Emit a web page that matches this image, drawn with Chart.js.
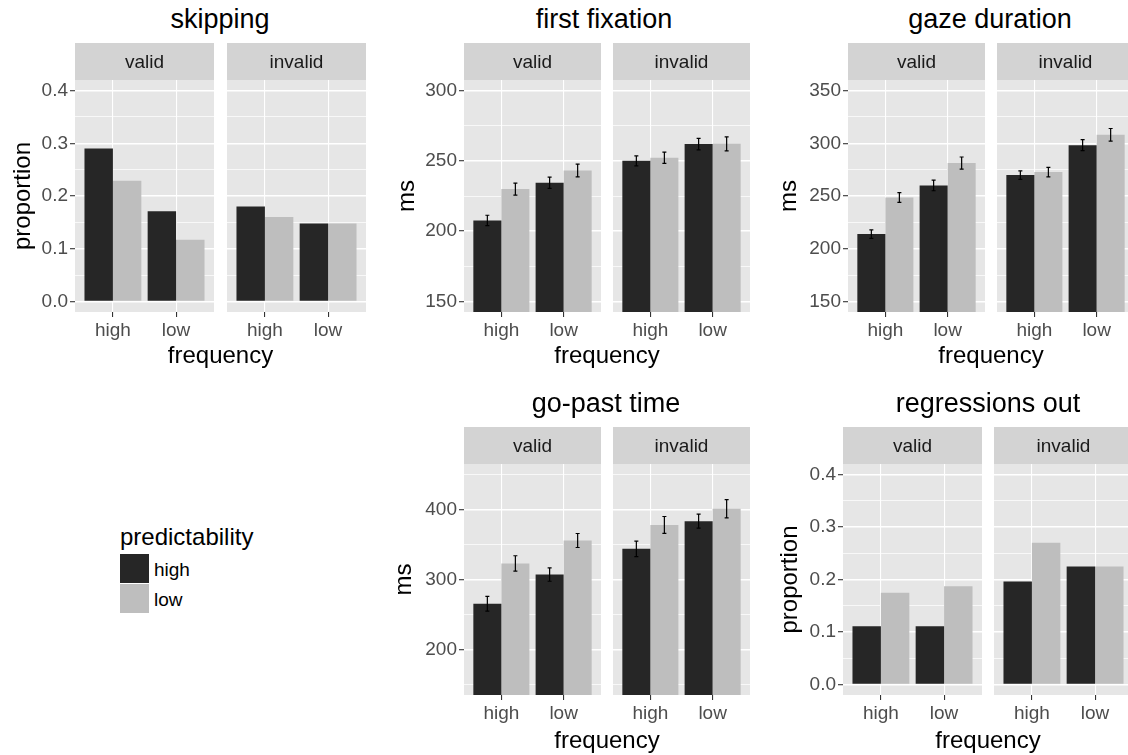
<!DOCTYPE html>
<html>
<head>
<meta charset="utf-8">
<title>Eye-movement measures by frequency, predictability and validity</title>
<script src="https://cdn.jsdelivr.net/npm/chart.js@4.4.1/dist/chart.umd.min.js"></script>
<style>
  html, body { margin: 0; padding: 0; background: #fff; overflow: hidden; width: 1128px; height: 755px; }
  body { position: relative; font-family: "Liberation Sans", Arial, Helvetica, sans-serif; }
  canvas, .txt, .key { position: absolute; }
  .txt { white-space: nowrap; line-height: 1; color: #000; }
</style>
</head>
<body>
<script>
// ---- data ----
const frequency = ['high', 'low'];
const predictability = ['high', 'low'];
const validity = ['valid', 'invalid'];

// skipping (proportion)
const skipValidPredHigh   = [0.290, 0.171];
const skipValidPredLow    = [0.229, 0.117];
const skipInvalidPredHigh = [0.180, 0.148];
const skipInvalidPredLow  = [0.160, 0.148];

// first fixation (ms) and error bar half-widths
const ffValidPredHigh   = [207.6, 234.4]; const ffValidPredHighErr   = [3.7, 4.0];
const ffValidPredLow    = [229.9, 243.1]; const ffValidPredLowErr    = [4.3, 4.5];
const ffInvalidPredHigh = [250.0, 261.9]; const ffInvalidPredHighErr = [3.6, 4.1];
const ffInvalidPredLow  = [252.2, 262.1]; const ffInvalidPredLowErr  = [4.0, 5.0];

// gaze duration (ms)
const gdValidPredHigh   = [213.9, 260.0]; const gdValidPredHighErr   = [4.0, 5.0];
const gdValidPredLow    = [248.6, 281.2]; const gdValidPredLowErr    = [4.6, 5.8];
const gdInvalidPredHigh = [269.8, 298.2]; const gdInvalidPredHighErr = [4.0, 5.2];
const gdInvalidPredLow  = [272.7, 308.0]; const gdInvalidPredLowErr  = [4.5, 6.0];

// go-past time (ms)
const gpValidPredHigh   = [265.3, 307.0]; const gpValidPredHighErr   = [10.5, 9.5];
const gpValidPredLow    = [322.9, 355.7]; const gpValidPredLowErr    = [11.0, 10.0];
const gpInvalidPredHigh = [343.8, 383.3]; const gpInvalidPredHighErr = [11.0, 10.0];
const gpInvalidPredLow  = [378.0, 401.0]; const gpInvalidPredLowErr  = [12.0, 13.0];

// regressions out (proportion)
const roValidPredHigh   = [0.111, 0.111];
const roValidPredLow    = [0.175, 0.187];
const roInvalidPredHigh = [0.196, 0.225];
const roInvalidPredLow  = [0.270, 0.225];

// tick labels
const propTicks = [0, 0.1, 0.2, 0.3, 0.4];
const ffTicks = [150, 200, 250, 300];
const gdTicks = [150, 200, 250, 300, 350];
const gpTicks = [200, 300, 400];

// ---- look ----
const FONT = '"Liberation Sans", Arial, Helvetica, sans-serif';
const DARK = '#262626', LIGHT = '#BEBEBE';
const PANEL_BG = '#E6E6E6', STRIP_BG = '#D3D3D3';
const X_AXIS_H = 32;
const rows = [
  { strip: 43, top: 80, bottom: 312, title: 29, xTitle: 363.5 },
  { strip: 427, top: 464, bottom: 695, title: 412.5, xTitle: 748 }
];

const panels = [
  { title: 'skipping', yTitle: 'proportion', row: 0, min: -0.02, max: 0.42, ticks: propTicks, fmt: v => v.toFixed(1),
    axisLeft: 9, facets: [[75, 214], [227, 366]], titleX: 220,
    data: [[skipValidPredHigh, skipValidPredLow], [skipInvalidPredHigh, skipInvalidPredLow]] },
  { title: 'first fixation', yTitle: 'ms', row: 0, min: 142.5, max: 307.5, ticks: ffTicks, fmt: v => String(v),
    axisLeft: 393, facets: [[464, 601], [613, 750]], titleX: 604,
    data: [[ffValidPredHigh, ffValidPredLow], [ffInvalidPredHigh, ffInvalidPredLow]],
    err: [[ffValidPredHighErr, ffValidPredLowErr], [ffInvalidPredHighErr, ffInvalidPredLowErr]] },
  { title: 'gaze duration', yTitle: 'ms', row: 0, min: 140, max: 360, ticks: gdTicks, fmt: v => String(v),
    axisLeft: 775, facets: [[848, 985], [997, 1134]], titleX: 990,
    data: [[gdValidPredHigh, gdValidPredLow], [gdInvalidPredHigh, gdInvalidPredLow]],
    err: [[gdValidPredHighErr, gdValidPredLowErr], [gdInvalidPredHighErr, gdInvalidPredLowErr]] },
  { title: 'go-past time', yTitle: 'ms', row: 1, min: 135, max: 465, ticks: gpTicks, fmt: v => String(v),
    axisLeft: 390, facets: [[464, 601], [613, 750]], titleX: 606,
    data: [[gpValidPredHigh, gpValidPredLow], [gpInvalidPredHigh, gpInvalidPredLow]],
    err: [[gpValidPredHighErr, gpValidPredLowErr], [gpInvalidPredHighErr, gpInvalidPredLowErr]] },
  { title: 'regressions out', yTitle: 'proportion', row: 1, min: -0.02, max: 0.42, ticks: propTicks, fmt: v => v.toFixed(1),
    axisLeft: 776, facets: [[843, 982], [994, 1133]], titleX: 988,
    data: [[roValidPredHigh, roValidPredLow], [roInvalidPredHigh, roInvalidPredLow]] }
];

// grey panel, strip with label, error bars
const facetPlugin = {
  id: 'facet',
  beforeDraw(chart, args, opts) {
    const { ctx, chartArea: a } = chart;
    ctx.save();
    ctx.fillStyle = PANEL_BG;
    ctx.fillRect(a.left, a.top, a.right - a.left, a.bottom - a.top);
    ctx.fillStyle = STRIP_BG;
    ctx.fillRect(a.left, 0, a.right - a.left, a.top);
    ctx.fillStyle = '#1A1A1A';
    ctx.font = '19px ' + FONT;
    ctx.textAlign = 'center';
    ctx.textBaseline = 'middle';
    ctx.fillText(opts.label, (a.left + a.right) / 2, a.top / 2 + 1);
    ctx.restore();
  },
  afterDatasetsDraw(chart) {
    const ctx = chart.ctx, y = chart.scales.y;
    chart.data.datasets.forEach((ds, i) => {
      if (!ds.errors) return;
      chart.getDatasetMeta(i).data.forEach((bar, j) => {
        const v = ds.data[j].y, e = ds.errors[j];
        const y1 = y.getPixelForValue(v + e), y2 = y.getPixelForValue(v - e);
        ctx.save();
        ctx.strokeStyle = '#000';
        ctx.lineWidth = 1.2;
        ctx.beginPath();
        ctx.moveTo(bar.x, y1); ctx.lineTo(bar.x, y2);
        ctx.moveTo(bar.x - 2, y1); ctx.lineTo(bar.x + 2, y1);
        ctx.moveTo(bar.x - 2, y2); ctx.lineTo(bar.x + 2, y2);
        ctx.stroke();
        ctx.restore();
      });
    });
  }
};

function gridTicks(p) {
  // majors from the tick list, minors halfway between (ggplot style)
  const step = p.ticks[1] - p.ticks[0];
  const out = p.ticks.map(v => ({ value: v, minor: false }));
  for (let k = -1; k < p.ticks.length; k++) {
    const m = p.ticks[0] + (k + 0.5) * step;
    if (m >= p.min && m <= p.max) out.push({ value: +m.toFixed(6), minor: true });
  }
  return out.sort((a, b) => a.value - b.value);
}

function makeFacet(p, f) {
  const row = rows[p.row];
  const [pl, pr] = p.facets[f];
  const isValid = f === 0;
  const left = isValid ? p.axisLeft : pl;
  const yW = pl - left;
  const w = pr - left, h = row.bottom - row.strip + X_AXIS_H;
  const canvas = document.createElement('canvas');
  canvas.width = w; canvas.height = h;
  canvas.style.left = left + 'px'; canvas.style.top = row.strip + 'px';
  canvas.style.width = w + 'px'; canvas.style.height = h + 'px';
  document.body.appendChild(canvas);
  const yTicks = gridTicks(p);

  const datasets = predictability.map((pred, s) => ({
    label: pred,
    data: frequency.map((fr, i) => ({ x: i + 1, y: p.data[f][s][i] })),
    errors: p.err ? p.err[f][s] : null,
    backgroundColor: s === 0 ? DARK : LIGHT,
    borderWidth: 0,
    categoryPercentage: 0.9,
    barPercentage: 1.0
  }));

  new Chart(canvas, {
    type: 'bar',
    data: { datasets },
    plugins: [facetPlugin],
    options: {
      responsive: false,
      animation: false,
      devicePixelRatio: 1,
      layout: { padding: { top: row.top - row.strip, left: 0, right: 0, bottom: 0 } },
      plugins: { legend: { display: false }, tooltip: { enabled: false }, facet: { label: validity[f] } },
      scales: {
        x: {
          type: 'linear', min: 0.4, max: 2.6, offset: false,
          afterBuildTicks: s => { s.ticks = frequency.map((fr, i) => ({ value: i + 1 })); },
          afterFit: s => { s.height = X_AXIS_H; },
          ticks: { autoSkip: false, maxRotation: 0, padding: 2, color: '#4D4D4D',
                   font: { size: 19, family: FONT }, callback: v => frequency[Math.round(v) - 1] },
          grid: { offset: false, color: '#fff', lineWidth: 1.1, drawTicks: true, tickLength: 5,
                  tickColor: '#333', tickWidth: 1.1 },
          border: { display: false }
        },
        y: {
          type: 'linear', min: p.min, max: p.max,
          afterBuildTicks: s => { s.ticks = yTicks.map(t => ({ value: t.value, minor: t.minor })); },
          afterFit: s => { s.width = yW; },
          ticks: { display: isValid, autoSkip: false, padding: 2, color: '#4D4D4D',
                   font: { size: 19, family: FONT },
                   callback: (v, i, t) => t[i].minor ? '' : p.fmt(v) },
          grid: { color: '#fff', drawTicks: isValid, tickLength: 5, tickWidth: 1.1,
                  lineWidth: c => (c.tick && c.tick.minor) ? 0.7 : 1.4,
                  tickColor: c => (c.tick && c.tick.minor) ? 'rgba(0,0,0,0)' : '#333' },
          border: { display: false },
          title: { display: isValid, text: p.yTitle, color: '#000', font: { size: 24, family: FONT }, padding: 0 }
        }
      }
    }
  });
}

function addText(str, x, baseline, size, center) {
  const d = document.createElement('div');
  d.className = 'txt';
  d.textContent = str;
  d.style.fontSize = size + 'px';
  d.style.left = x + 'px';
  d.style.top = (baseline - 0.8465 * size) + 'px';
  if (center) d.style.transform = 'translateX(-50%)';
  document.body.appendChild(d);
}

panels.forEach(p => {
  const row = rows[p.row];
  makeFacet(p, 0);
  makeFacet(p, 1);
  addText(p.title, p.titleX, row.title, 27, true);
  addText('frequency', (p.facets[0][0] + p.facets[1][1]) / 2, row.xTitle, 24, true);
});

// legend
addText('predictability', 120, 545, 24, false);
predictability.forEach((pred, i) => {
  const k = document.createElement('div');
  k.className = 'key';
  k.style.left = '120px';
  k.style.top = (554 + i * 30) + 'px';
  k.style.width = '29px';
  k.style.height = '29px';
  k.style.background = i === 0 ? DARK : LIGHT;
  document.body.appendChild(k);
  addText(pred, 154, 576 + i * 30, 19, false);
});
</script>
</body>
</html>
